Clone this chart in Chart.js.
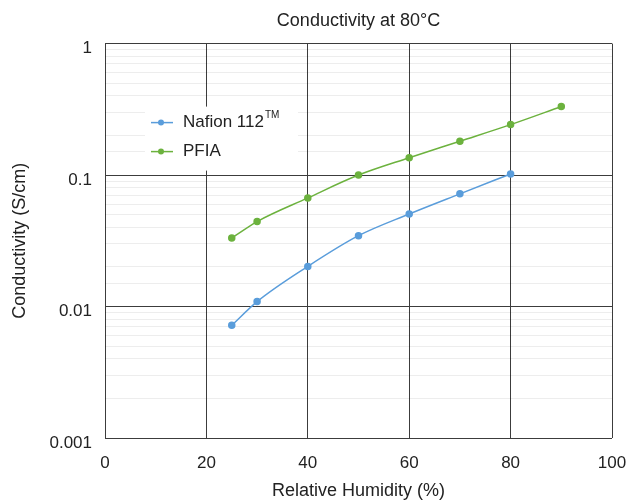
<!DOCTYPE html>
<html>
<head>
<meta charset="utf-8">
<script src="https://cdn.jsdelivr.net/npm/chart.js@4/dist/chart.umd.min.js"></script>
<style>
  html, body { margin: 0; padding: 0; background: #fff; }
  #wrap { width: 636px; height: 502px; }
</style>
</head>
<body>
<div id="wrap"><canvas id="myChart" width="636" height="502"></canvas></div>
<script>
// relative humidity (%)
const humidityNafion = [25, 30, 40, 50, 60, 70, 80];
const humidityPfia = [25, 30, 40, 50, 60, 70, 80, 90];
// conductivity (S/cm)
const nafionValues = [0.0072, 0.0109, 0.0202, 0.0346, 0.0506, 0.072, 0.102];
const pfiaValues = [0.0332, 0.0443, 0.067, 0.100, 0.1355, 0.181, 0.242, 0.332];
const xTicks = [0, 20, 40, 60, 80, 100];
const yTicks = [0.001, 0.01, 0.1, 1];

const blue = '#5a9ddb';
const green = '#6cb23e';
const fontFam = '"Liberation Sans", Arial, sans-serif';

const isDecade = v => yTicks.some(t => Math.abs(Math.log10(v) - Math.log10(t)) < 1e-6);

// legend drawn inside the plot area, top-left, on a white box
const insideLegend = {
    id: 'insideLegend',
    afterDatasetsDraw(chart) {
        const ctx = chart.ctx;
        const area = chart.chartArea;
        const x0 = area.left + 40, y0 = area.top + 63;
        ctx.save();
        ctx.fillStyle = '#fff';
        ctx.fillRect(x0, y0, 153, 64);
        chart.data.datasets.forEach((ds, i) => {
            const y = y0 + 16 + i * 29;
            ctx.strokeStyle = ds.borderColor;
            ctx.lineWidth = 1.5;
            ctx.beginPath();
            ctx.moveTo(x0 + 6, y);
            ctx.lineTo(x0 + 28, y);
            ctx.stroke();
            ctx.fillStyle = ds.borderColor;
            ctx.beginPath();
            ctx.arc(x0 + 16, y, 3, 0, Math.PI * 2);
            ctx.fill();
            ctx.fillStyle = '#222';
            ctx.font = '17px ' + fontFam;
            ctx.textBaseline = 'middle';
            ctx.fillText(ds.label, x0 + 38, y);
            if (ds.sup) {
                const w = ctx.measureText(ds.label).width;
                ctx.font = '10px ' + fontFam;
                ctx.fillText(ds.sup, x0 + 39 + w, y - 7);
            }
        });
        ctx.restore();
    }
};

const ctx = document.getElementById('myChart').getContext('2d');
const myChart = new Chart(ctx, {
    type: 'line',
    data: {
        datasets: [{
            label: 'Nafion 112',
            sup: 'TM',
            data: humidityNafion.map((h, i) => ({ x: h, y: nafionValues[i] })),
            borderColor: blue,
            backgroundColor: blue,
            borderWidth: 1.5,
            pointRadius: 3,
            pointHoverRadius: 3,
            tension: 0.4,
            cubicInterpolationMode: 'monotone'
        }, {
            label: 'PFIA',
            data: humidityPfia.map((h, i) => ({ x: h, y: pfiaValues[i] })),
            borderColor: green,
            backgroundColor: green,
            borderWidth: 1.5,
            pointRadius: 3,
            pointHoverRadius: 3,
            tension: 0.4,
            cubicInterpolationMode: 'monotone'
        }]
    },
    options: {
        responsive: false,
        animation: false,
        layout: { padding: { top: 0, right: 24, left: 0, bottom: 0 } },
        plugins: {
            legend: { display: false },
            tooltip: { enabled: false },
            title: {
                display: true,
                fullSize: false,
                text: 'Conductivity at 80°C',
                color: '#222',
                font: { family: fontFam, size: 18, weight: 'normal' },
                padding: { top: 10, bottom: 12 }
            }
        },
        scales: {
            x: {
                type: 'linear',
                min: 0,
                max: 100,
                afterBuildTicks: s => { s.ticks = xTicks.map(v => ({ value: v })); },
                grid: { color: '#3c3c3c', lineWidth: 1, drawTicks: false },
                border: { display: false },
                ticks: { color: '#222', padding: 15, font: { family: fontFam, size: 17 } },
                title: {
                    display: true,
                    text: 'Relative Humidity (%)',
                    color: '#222',
                    font: { family: fontFam, size: 18 },
                    padding: { top: 8, bottom: 0 }
                },
                afterFit: s => { s.height = 64; s.paddingLeft = 0; s.paddingRight = 0; }
            },
            y: {
                type: 'logarithmic',
                min: 0.001,
                max: 1,
                grid: {
                    drawTicks: false,
                    color: c => isDecade(c.tick.value) ? '#3c3c3c' : 'rgba(0,0,0,0.07)',
                    lineWidth: 1
                },
                border: { display: false },
                ticks: {
                    autoSkip: false,
                    color: '#222',
                    padding: 13,
                    labelOffset: 5,
                    font: { family: fontFam, size: 17 },
                    callback: v => isDecade(v) ? String(v) : ''
                },
                title: {
                    display: true,
                    text: 'Conductivity (S/cm)',
                    color: '#222',
                    font: { family: fontFam, size: 18 },
                    padding: { top: 9, bottom: 0 }
                },
                afterFit: s => { s.width = 105; }
            }
        }
    },
    plugins: [insideLegend]
});
</script>
</body>
</html>
